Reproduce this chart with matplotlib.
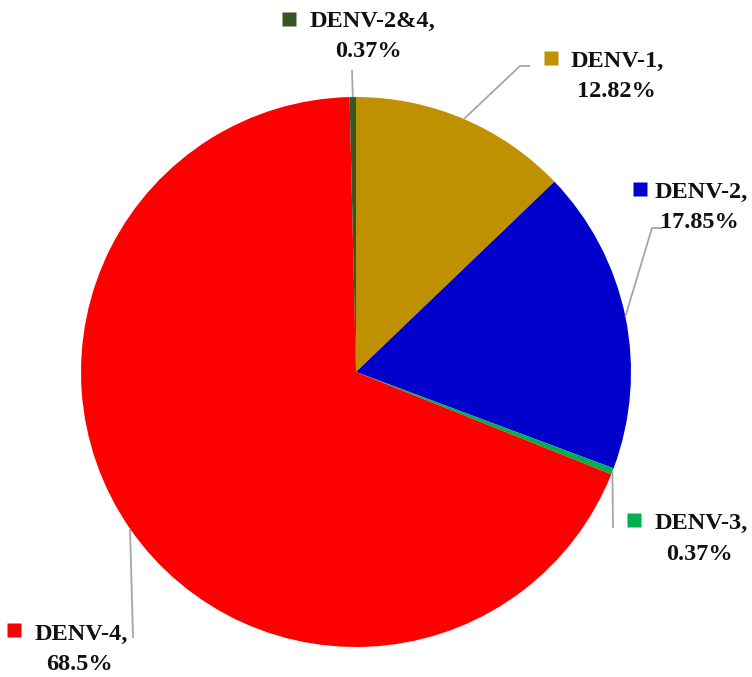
import numpy as np
import matplotlib.pyplot as plt

labels = ['DENV-1', 'DENV-2', 'DENV-3', 'DENV-4', 'DENV-2&4']
values = [12.82, 17.85, 0.37, 68.5, 0.37]
value_text = ['12.82%', '17.85%', '0.37%', '68.5%', '0.37%']
colors = ['#BF9000', '#0000CC', '#00B050', '#FF0000', '#375623']

# pie centre and radius in pixels
CX, CY, R = 356, 372, 275
W, H = 752, 677

# label layout in pixels: square centre, text left x, baseline 1, second line centre x, baseline 2
label_pos = {
    'DENV-1': (551, 58, 571, 67, 616, 97),
    'DENV-2': (640, 189, 655, 198, 699, 228),
    'DENV-3': (634, 520, 655, 529, 699, 560),
    'DENV-4': (14, 630, 35, 640, 79, 670),
    'DENV-2&4': (289, 19, 310, 27, 368, 57),
}
# leader line bends (pixels), drawn from the wedge edge
leader_pts = {
    'DENV-1': [(520, 66), (530, 66)],
    'DENV-2': [(652, 228), (663, 228)],
    'DENV-3': [(613, 528)],
    'DENV-4': [(133, 638)],
    'DENV-2&4': [(352, 70)],
}


def px(x, y):
    return (x - CX) / R, (CY - y) / R


def plot_pie():
    fig = plt.figure(figsize=(W / 100, H / 100), dpi=100)
    ax = fig.add_axes([0, 0, 1, 1])

    wedges, _ = ax.pie(values, colors=colors, startangle=90, counterclock=False,
                       radius=1, center=(0, 0), frame=True,
                       wedgeprops={'linewidth': 0})
    ax.set_xlim(-CX / R, (W - CX) / R)
    ax.set_ylim(-(H - CY) / R, CY / R)
    ax.set_aspect('equal')
    ax.axis('off')

    font = dict(family=['Liberation Serif', 'DejaVu Serif'], fontweight='bold',
                fontsize=17.5, color='#111111')
    for w, name, vt, col in zip(wedges, labels, value_text, colors):
        ang = np.deg2rad((w.theta1 + w.theta2) / 2)
        start = (np.cos(ang), np.sin(ang))
        pts = [start] + [px(*p) for p in leader_pts[name]]
        xs, ys = zip(*pts)
        ax.plot(xs, ys, color='#A6A6A6', lw=1.3, solid_capstyle='butt')

        sx, sy, tx, b1, cx2, b2 = label_pos[name]
        ax.plot(*px(sx, sy), marker='s', ms=10, color=col, mec='none')
        ax.text(*px(tx, b1), name + ',', ha='left', va='baseline', **font)
        ax.text(*px(cx2, b2), vt, ha='center', va='baseline', **font)

    fig.savefig('out.png', dpi=100, facecolor='white')
    plt.close(fig)


plot_pie()
